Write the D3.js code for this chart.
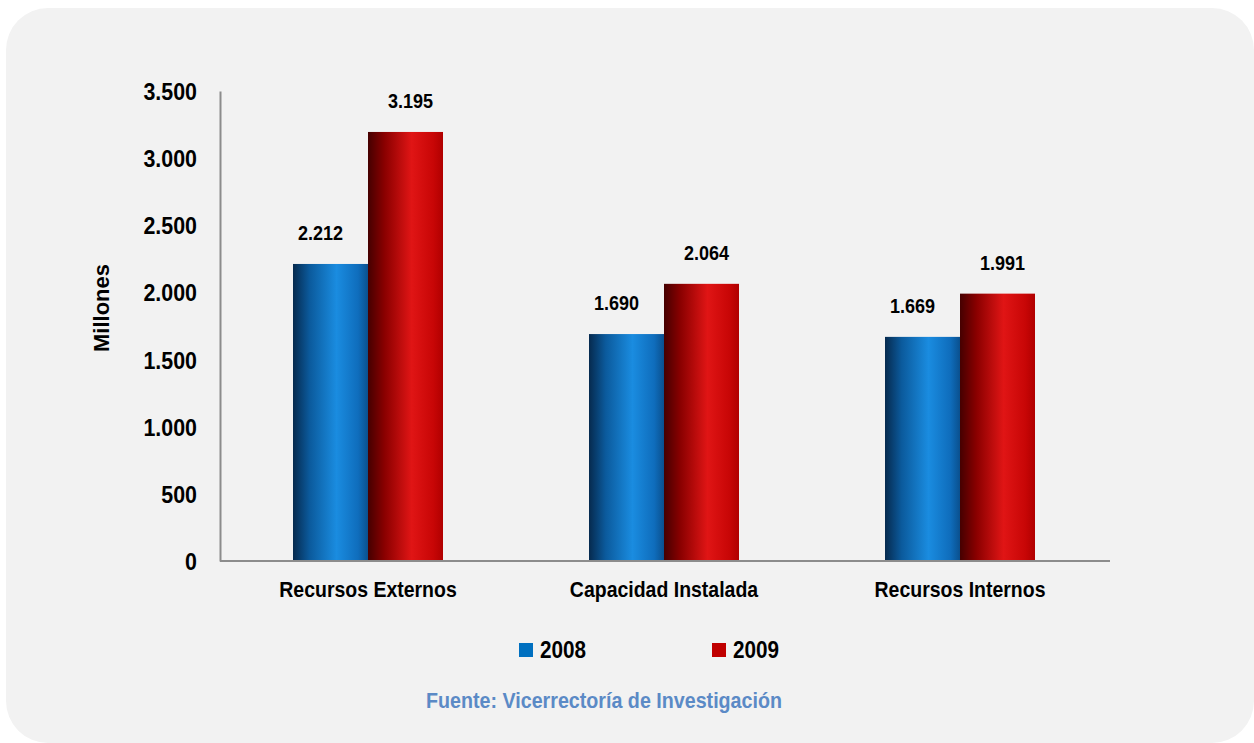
<!DOCTYPE html>
<html>
<head>
<meta charset="utf-8">
<script src="https://cdn.jsdelivr.net/npm/d3@7"></script>
<style>
  body { margin: 0; background: #fff; }
  text { font-family: "Liberation Sans", Arial, sans-serif; font-weight: bold; }
</style>
</head>
<body>
<script>
const categories = ["Recursos Externos", "Capacidad Instalada", "Recursos Internos"];
const years = ["2008", "2009"];
const values2008 = [2212, 1690, 1669];
const values2009 = [3195, 2064, 1991];
const yTicks = [0, 500, 1000, 1500, 2000, 2500, 3000, 3500];

const data = categories.map((c, i) => ({ cat: c, "2008": values2008[i], "2009": values2009[i] }));

const W = 1254, H = 743;
const margin = { top: 91, right: 146, bottom: 182, left: 220 };
const width = W - margin.left - margin.right,
  height = H - margin.top - margin.bottom;

const locale = d3.formatLocale({ decimal: ",", thousands: ".", grouping: [3], currency: ["$", ""] });
const fmt = locale.format(",d");

// narrow-font look: squeeze text horizontally
function squeeze(sel, k) {
  sel.each(function() {
    const L = this.getComputedTextLength();
    d3.select(this).attr("textLength", L * k).attr("lengthAdjust", "spacingAndGlyphs");
  });
}

const svg = d3.select("body").append("svg")
  .attr("width", W)
  .attr("height", H);

// gradients for cylinder look
const defs = svg.append("defs");
const grads = {
  "2008": ["#062a4e", "#0b5a9c", "#1a8ce0", "#0f6dbc", "#0a508e"],
  "2009": ["#450000", "#8a0000", "#e01515", "#c80606", "#b00000"]
};
Object.keys(grads).forEach(k => {
  const g = defs.append("linearGradient").attr("id", "g" + k)
    .attr("x1", "0%").attr("x2", "100%").attr("y1", "0%").attr("y2", "0%");
  const stops = [0, 0.22, 0.58, 0.87, 1];
  grads[k].forEach((c, i) => g.append("stop").attr("offset", stops[i]).attr("stop-color", c));
});
const legendColor = { "2008": "#0070c0", "2009": "#c00000" };

svg.append("rect")
  .attr("x", 6).attr("y", 8)
  .attr("width", W - 6).attr("height", H - 8)
  .attr("rx", 42)
  .attr("fill", "#f2f2f2");

const plot = svg.append("g")
  .attr("transform", `translate(${margin.left},${margin.top})`);

const x0 = d3.scaleBand().domain(categories).range([0, width]).padding(0);
const x1 = d3.scaleBand().domain(years)
  .range([(x0.bandwidth() - 150) / 2, (x0.bandwidth() + 150) / 2]).padding(0);
const y = d3.scaleLinear().domain([0, 3500]).range([height, 0]);

// axes
const yAxis = plot.append("g")
  .call(d3.axisLeft(y).tickValues(yTicks).tickSize(0).tickPadding(23).tickFormat(fmt));
yAxis.select(".domain").attr("stroke", "#8c8c8c").attr("stroke-width", 2);
yAxis.selectAll("text").attr("font-size", 23).attr("fill", "#000").attr("dy", "0.37em")
  .call(squeeze, 0.93);

const groups = plot.selectAll(".grp")
  .data(data)
  .enter().append("g")
  .attr("transform", d => `translate(${x0(d.cat)},0)`);

groups.selectAll("rect")
  .data(d => years.map(k => ({ key: k, value: d[k] })))
  .enter().append("rect")
  .attr("x", d => x1(d.key))
  .attr("y", d => y(d.value))
  .attr("width", x1.bandwidth())
  .attr("height", d => height - y(d.value))
  .attr("fill", d => `url(#g${d.key})`);

groups.selectAll(".lbl")
  .data(d => years.map(k => ({ key: k, value: d[k] })))
  .enter().append("text")
  .attr("class", "lbl")
  .attr("x", d => x1(d.key) + x1.bandwidth() / 2 + (d.key === "2008" ? -10 : 5))
  .attr("y", d => y(d.value) - 24)
  .attr("text-anchor", "middle")
  .attr("font-size", 20)
  .text(d => fmt(d.value))
  .call(squeeze, 0.9);

const xAxis = plot.append("g")
  .attr("transform", `translate(0,${height})`)
  .call(d3.axisBottom(x0).tickSize(0).tickPadding(20));
xAxis.select(".domain").attr("stroke", "#8c8c8c").attr("stroke-width", 2)
  .attr("d", `M0,0H${width + 2}`);
xAxis.selectAll("text").attr("font-size", 22).attr("fill", "#000")
  .attr("y", 36).attr("dy", 0)
  .call(squeeze, 0.885);

svg.append("text")
  .attr("transform", "translate(109,308) rotate(-90)")
  .attr("text-anchor", "middle")
  .attr("font-size", 22)
  .text("Millones");

// legend
const legend = svg.selectAll(".legend")
  .data(years)
  .enter().append("g")
  .attr("transform", (d, i) => `translate(${519 + i * 193},643)`);
legend.append("rect")
  .attr("width", 14).attr("height", 14)
  .attr("fill", d => legendColor[d]);
legend.append("text")
  .attr("x", 21).attr("y", 15)
  .attr("font-size", 23)
  .text(d => d)
  .call(squeeze, 0.9);

svg.append("text")
  .attr("x", 604).attr("y", 708)
  .attr("text-anchor", "middle")
  .attr("font-size", 22)
  .attr("fill", "#5b8ac6")
  .text("Fuente: Vicerrectoría de Investigación")
  .call(squeeze, 0.894);
</script>
</body>
</html>
